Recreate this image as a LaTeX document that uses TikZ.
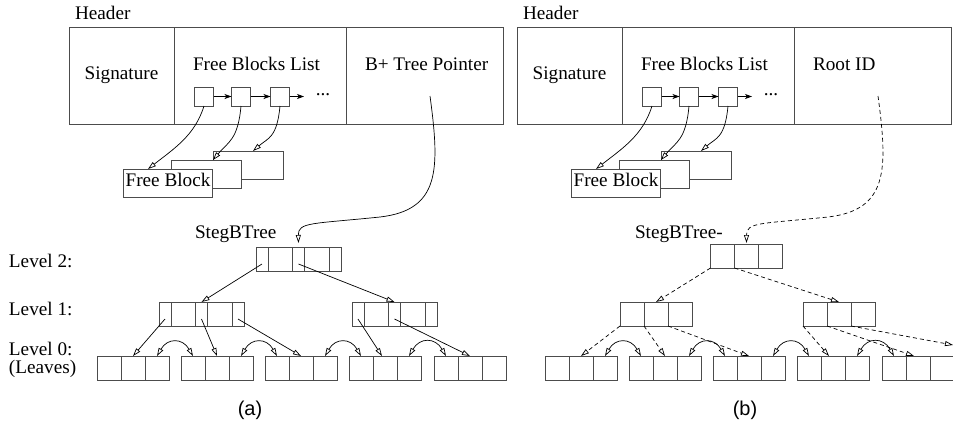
\documentclass[tikz,border=0pt]{standalone}
\usepackage{fontspec}
\setmainfont{Liberation Serif}
\newfontfamily\capsans{Liberation Sans}
\usetikzlibrary{arrows.meta}

\tikzset{
  box/.style={draw=black!70, line width=0.9pt, inner sep=0pt, outer sep=0pt, fill=white},
  hcell/.style={box, minimum height=97pt, anchor=north west, font=\fontsize{19.2}{23}\selectfont},
  pcell/.style={box, minimum width=12pt, minimum height=24pt, anchor=west},
  kcell/.style={box, minimum width=24.5pt, minimum height=24pt, anchor=west},
  lcell/.style={box, minimum width=24pt, minimum height=24pt, anchor=west},
  sqcell/.style={box, minimum size=19pt},
  fblock/.style={box, minimum height=28pt, anchor=north west},
  txt/.style={inner sep=0pt, outer sep=0pt, font=\fontsize{19.2}{23}\selectfont},
  captxt/.style={inner sep=0pt, font=\capsans\fontsize{20}{24}\selectfont},
  ptr/.style={draw=black, line width=0.7pt, -{Triangle[open,length=8pt,width=5pt]}},
  lst/.style={draw=black, line width=0.7pt, -{Stealth[length=7pt,width=5pt,inset=2pt]}},
  sibl/.style={draw=black, line width=0.7pt,
    {Triangle[open,length=8pt,width=5pt]}-{Triangle[open,length=8pt,width=5pt]}},
  dsh/.style={dash pattern=on 4pt off 3pt},
}

% B+ tree node with five cells: pointer, key, pointer, key, pointer
\newcommand\bfive[3]{%
  \node[pcell] (#1-1) at (#2,#3) {};
  \node[kcell] (#1-2) at (#1-1.east) {};
  \node[pcell] (#1-3) at (#1-2.east) {};
  \node[kcell] (#1-4) at (#1-3.east) {};
  \node[pcell] (#1-5) at (#1-4.east) {};
}
% node with three equal cells
\newcommand\bthree[3]{%
  \node[lcell] (#1-1) at (#2,#3) {};
  \node[lcell] (#1-2) at (#1-1.east) {};
  \node[lcell] (#1-3) at (#1-2.east) {};
}
% sibling link between neighbouring leaves
\newcommand\sib[2]{%
  \draw[sibl] (#1-3.north) to[out=60,in=120,looseness=1.5] (#2-1.north);
}
% header record with its free block list
\newcommand\hdrpanel[2]{%
  \node[txt, anchor=base west] (#1hd) at (75,19.5) {Header};
  \node[hcell, minimum width=105pt] (#1sig) at (69,27) {Signature};
  \node[hcell, minimum width=172pt] (#1fbl) at (#1sig.north east) {};
  \node[hcell, minimum width=157pt] (#1ptr) at (#1fbl.north east) {};
  \node[txt, anchor=base west] (#1fblt) at (193,70) {Free Blocks List};
  \node[txt, anchor=base west] (#1ptrt) at (365,70) {#2};
  \node[sqcell] (#1sq1) at (204,96.5) {};
  \node[sqcell] (#1sq2) at (241,96.5) {};
  \node[sqcell] (#1sq3) at (280,96.5) {};
  \coordinate (#1more) at (304,96.5);
  \draw[lst] (#1sq1) -- (#1sq2);
  \draw[lst] (#1sq2) -- (#1sq3);
  \draw[lst] (#1sq3) -- (#1more);
  \node[txt] (#1dots) at (323,95) {...};
  \node[fblock, minimum width=70pt] (#1fb3) at (213,151) {};
  \node[fblock, minimum width=70pt] (#1fb2) at (171,160) {};
  \node[fblock, minimum width=89pt] (#1fb1) at (123,169) {};
  \node[txt, anchor=base] (#1fbt) at (168,186) {Free Block};
  \draw[ptr] (#1sq1.south) .. controls (195,135) and (175,148) .. ([xshift=25pt]#1fb1.north west);
  \draw[ptr] (#1sq2.south) .. controls (238,140) and (228,142) .. ([xshift=42pt]#1fb2.north west);
  \draw[ptr] (#1sq3.south) .. controls (277,138) and (268,138) .. ([xshift=40pt]#1fb3.north west);
  \coordinate (#1src) at (430,96);
}

\begin{document}
\begin{tikzpicture}[x=1pt, y=-1pt]
\useasboundingbox (0,0) rectangle (953,426);

% ---------- (a) ----------
\hdrpanel{a}{B+ Tree Pointer}

\node[txt, anchor=base west] (lv2) at (9,267) {Level 2:};
\node[txt, anchor=base west] (lv1) at (9,315) {Level 1:};
\node[txt, anchor=base west] (lv0) at (9,355) {Level 0:};
\node[txt, anchor=base west] (lvs) at (9,373.5) {(Leaves)};
\node[txt, anchor=base west] (sbt) at (195,238) {StegBTree};

\bfive{a2}{256}{259}
\bfive{a1L}{159}{314}
\bfive{a1R}{352}{314}
\bthree{la1}{97}{368}
\bthree{la2}{181}{368}
\bthree{la3}{265}{368}
\bthree{la4}{349}{368}
\bthree{la5}{434}{368}

\draw[ptr] (asrc) .. controls (440,170) and (440,210) .. (380,217)
  .. controls (312,224) and (298,222) .. ([yshift=4pt]a2-3.north);

\draw[ptr] ([yshift=-5pt]a2-1.center) -- (a1L-3.north);
\draw[ptr] ([yshift=-5pt]a2-3.center) -- (a1R-3.north);
\draw[ptr] ([yshift=-5pt]a1L-1.center) -- (la1-2.north);
\draw[ptr] ([yshift=-5pt]a1L-3.center) -- (la2-2.north);
\draw[ptr] ([yshift=-5pt]a1L-5.center) -- (la3-2.north);
\draw[ptr] ([yshift=-5pt]a1R-1.center) -- ([xshift=-3pt]la4-2.north);
\draw[ptr] ([yshift=-5pt]a1R-3.center) -- (la5-2.north);

\sib{la1}{la2}
\sib{la2}{la3}
\sib{la3}{la4}
\sib{la4}{la5}

\node[captxt] (capa) at (250,410) {(a)};

% ---------- (b) ----------
\begin{scope}[xshift=448pt]
\hdrpanel{b}{Root ID}
\end{scope}

\node[txt, anchor=base west] (sbtb) at (635,238) {StegBTree-};

\bthree{b2}{710.5}{256}
\bthree{b1L}{620}{314}
\bthree{b1R}{803}{314}
\bthree{lb1}{545}{368}
\bthree{lb2}{629}{368}
\bthree{lb3}{713}{368}
\bthree{lb4}{797}{368}
\bthree{lb5}{882}{368}
\coordinate (bnext) at (953,345);

\draw[ptr, dsh] (bsrc) .. controls (888,170) and (888,210) .. (828,217)
  .. controls (760,224) and (746.5,222) .. ([yshift=1pt]b2-2.north);

\draw[ptr, dsh] (b2-1.south west) -- (b1L-2.north);
\draw[ptr, dsh] (b2-1.south east) -- (b1R-2.north);
\draw[ptr, dsh] (b1L-1.south west) -- (lb1-2.north);
\draw[ptr, dsh] (b1L-1.south east) -- (lb2-2.north);
\draw[ptr, dsh] (b1L-2.south east) -- (lb3-2.north);
\draw[ptr, dsh] (b1R-1.south west) -- ([xshift=-4pt]lb4-2.north);
\draw[ptr, dsh] (b1R-1.south east) -- ([xshift=-4pt]lb5-2.north);
\draw[ptr, dsh] (b1R-2.south east) -- (bnext);

\sib{lb1}{lb2}
\sib{lb2}{lb3}
\sib{lb3}{lb4}
\sib{lb4}{lb5}

\node[captxt] (capb) at (745,410) {(b)};
\end{tikzpicture}
\end{document}
